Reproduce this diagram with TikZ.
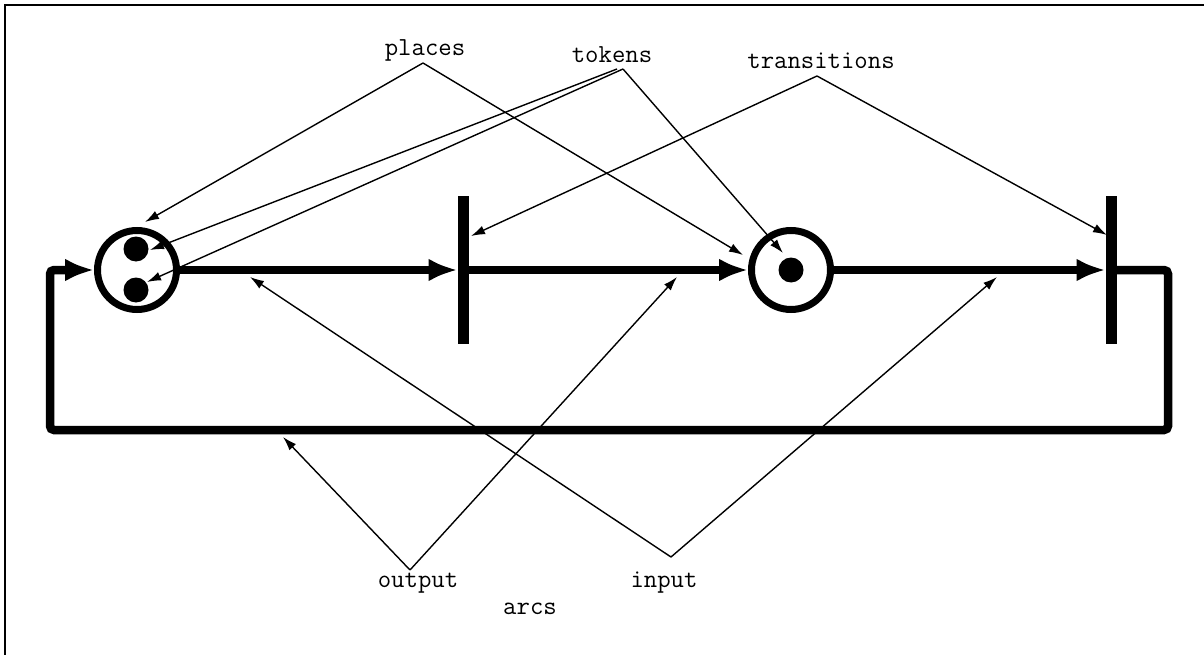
\documentclass[tikz,border=0pt]{standalone}
\usepackage{fontspec}
\usetikzlibrary{arrows.meta}
\begin{document}
\begin{tikzpicture}[x=1pt,y=-1pt,
  place/.style={circle,draw=black,line width=7pt,minimum size=79pt,inner sep=0pt},
  token/.style={circle,fill=black,minimum size=25pt,inner sep=0pt},
  trans/.style={rectangle,fill=black,minimum width=11pt,minimum height=147pt,inner sep=0pt,outer sep=0pt},
  arc/.style={line width=8.5pt,-{Latex[length=29pt,width=23pt]}},
  loopline/.style={line width=8.5pt,rounded corners=4pt},
  pointer/.style={line width=1.4pt,-{Latex[length=14pt,width=9pt]}},
  lbl/.style={font=\ttfamily\fontsize{26}{30}\selectfont,inner sep=0pt},
  frame/.style={line width=2pt}]
\useasboundingbox (0,0) rectangle (1204,655);
\coordinate (f1) at (1204,5);
\coordinate (f2) at (5,5);
\coordinate (f3) at (5,655);
\draw[frame] (f1) -- (f2) -- (f3);

% places, tokens, transitions
\node[place] (p1) at (137,270) {};
\node[place] (p2) at (791,270) {};
\node[token] (k1) at (136,249) {};
\node[token] (k2) at (136,290) {};
\node[token] (k3) at (791,270) {};
\node[trans] (t1) at (463,270) {};
\node[trans] (t2) at (1111,270) {};

% arcs
\draw[arc] (p1.east) -- (t1.west);
\draw[arc] (t1.east) -- (p2.west);
\draw[arc] (p2.east) -- (t2.west);
\coordinate (c1) at (1168,270);
\coordinate (c2) at (1168,430);
\coordinate (c3) at (50,430);
\coordinate (c4) at (50,270);
\draw[loopline] (t2.east) -- (c1) -- (c2) -- (c3) -- (c4) -- (70,270);
\draw[arc] (c4) ++(10,0) -- (p1.west);

% labels
\node[lbl] (lplaces) at (425,50) {places};
\node[lbl] (ltokens) at (612,55) {tokens};
\node[lbl] (ltrans) at (821,61) {transitions};
\node[lbl] (lout) at (418,583) {output};
\node[lbl] (lin) at (664,583) {input};
\node[lbl] (larcs) at (530,609) {arcs};

% apex points
\coordinate (aplaces) at (423,63);
\coordinate (atok1) at (617,69);
\coordinate (atok2) at (623,69);
\coordinate (atrans) at (817,76);
\coordinate (aout) at (410,570);
\coordinate (ain) at (671,557);

% pointer targets
\coordinate (tp1) at (145,222);
\coordinate (tp2) at (743,255);
\coordinate (tk1) at (150,250);
\coordinate (tk2) at (147,282);
\coordinate (tk3) at (783,253);
\coordinate (tt1) at (471,236);
\coordinate (tt2) at (1107,235);
\coordinate (to1) at (283,437);
\coordinate (to2) at (677,277);
\coordinate (ti1) at (250,277);
\coordinate (ti2) at (997,277);

\draw[pointer] (aplaces) -- (tp1);
\draw[pointer] (aplaces) -- (tp2);
\draw[pointer] (atok1) -- (tk1);
\draw[pointer] (atok2) -- (tk2);
\draw[pointer] (atok2) -- (tk3);
\draw[pointer] (atrans) -- (tt1);
\draw[pointer] (atrans) -- (tt2);
\draw[pointer] (aout) -- (to1);
\draw[pointer] (aout) -- (to2);
\draw[pointer] (ain) -- (ti1);
\draw[pointer] (ain) -- (ti2);
\end{tikzpicture}
\end{document}
